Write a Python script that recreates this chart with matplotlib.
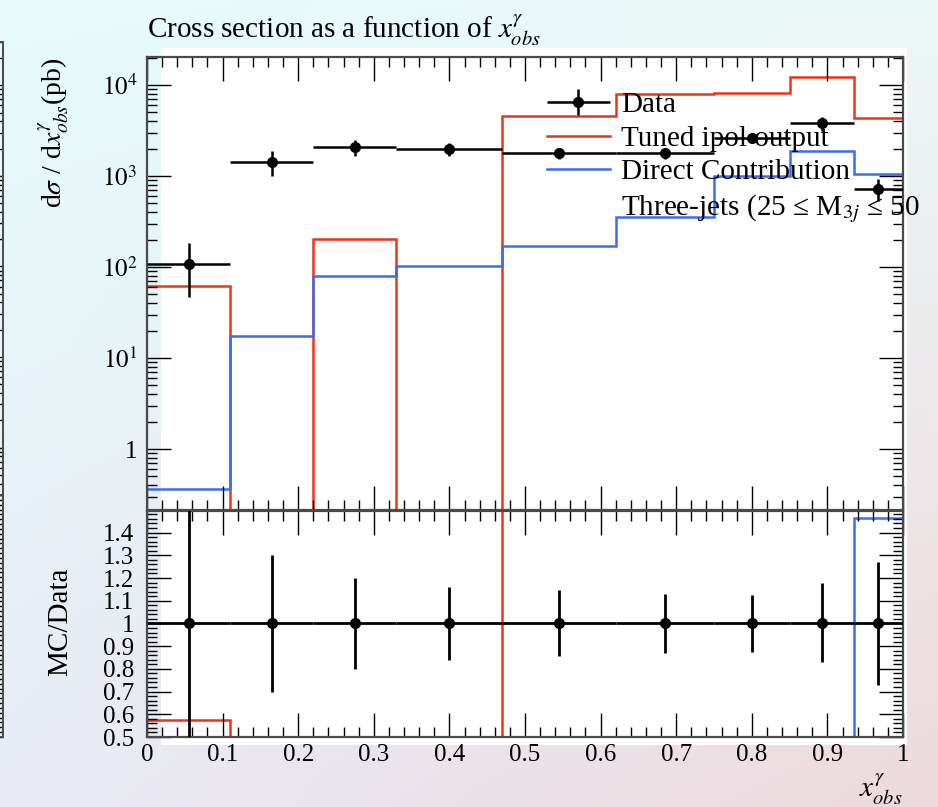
import numpy as np
import matplotlib
matplotlib.use("Agg")
import matplotlib.pyplot as plt
from matplotlib.ticker import MultipleLocator, FixedLocator, FuncFormatter, LogLocator, NullFormatter
from matplotlib.patches import Rectangle
from matplotlib.lines import Line2D
from matplotlib.legend_handler import HandlerErrorbar

plt.rcParams['font.family'] = ['Liberation Serif', 'DejaVu Serif']
plt.rcParams['mathtext.fontset'] = 'stix'

# ---------------- data ----------------
bin_edges = [0.0, 0.11, 0.22, 0.33, 0.47, 0.62, 0.75, 0.85, 0.935, 1.0]
data_values = [108, 1430, 2080, 1980, 1790, 1780, 2620, 3800, 725]
data_err_up = [76, 430, 420, 320, 260, 230, 330, 680, 195]
data_err_down = [61, 430, 420, 320, 260, 230, 330, 640, 195]
tuned_values = [62, 0, 203, 0, 4560, 7980, 8150, 12250, 4340]
direct_values = [0.36, 17.4, 79, 103, 170, 354, 1000, 1880, 1060]

legend_labels = ["Data", "Tuned ipol output", "Direct Contribution",
                 "Three-jets (25 \u2264 M$_{3j}$ \u2264 50"]
title_text = r"Cross section as a function of $x_{obs}^{\gamma}$"
ylabel_text = r"d$\sigma$ / d$x^{\gamma}_{obs}$(pb)"
ratio_label_text = "MC/Data"
xlabel_text = r"$x^{\gamma}_{obs}$"
x_ticks = [0, 0.1, 0.2, 0.3, 0.4, 0.5, 0.6, 0.7, 0.8, 0.9, 1.0]
x_tick_labels = ["0", "0.1", "0.2", "0.3", "0.4", "0.5", "0.6", "0.7", "0.8", "0.9", "1"]
ratio_ticks = [0.5, 0.6, 0.7, 0.8, 0.9, 1.0, 1.1, 1.2, 1.3, 1.4]
ratio_tick_labels = ["0.5", "0.6", "0.7", "0.8", "0.9", "1", "1.1", "1.2", "1.3", "1.4"]

RED = '#ee3418'
BLUE = '#3a6cf4'

# ---------------- figure ----------------
W, H = 938, 807
fig = plt.figure(figsize=(W / 100, H / 100), dpi=100)

def fx(px):
    return px / W

def fy(py):
    return 1 - py / H

# background gradient
bg = fig.add_axes([0, 0, 1, 1], zorder=-10)
ny, nx = 160, 200
yy, xx = np.mgrid[0:1:ny * 1j, 0:1:nx * 1j]
TL = np.array([230, 252, 251]) / 255
TR = np.array([236, 248, 248]) / 255
BL = np.array([233, 235, 246]) / 255
BR = np.array([238, 218, 221]) / 255
img = ((1 - xx)[..., None] * (1 - yy)[..., None] * TL + xx[..., None] * (1 - yy)[..., None] * TR
       + (1 - xx)[..., None] * yy[..., None] * BL + xx[..., None] * yy[..., None] * BR)
bg.imshow(img, extent=[0, 1, 0, 1], origin='upper', aspect='auto', interpolation='bilinear')
bg.add_patch(Rectangle((fx(161), fy(745)), (907 - 161) / W, (745 - 48) / H,
                       facecolor='white', edgecolor='none'))
bg.set_xlim(0, 1)
bg.set_ylim(0, 1)
bg.axis('off')

edges = np.array(bin_edges)
centers = 0.5 * (edges[:-1] + edges[1:])
halfw = 0.5 * (edges[1:] - edges[:-1])
data = np.array(data_values, float)
eu = np.array(data_err_up, float)
ed = np.array(data_err_down, float)
tuned = np.array(tuned_values, float)
direct = np.array(direct_values, float)

SPINE = '#4a4a4a'

def style_axes(ax):
    for s in ax.spines.values():
        s.set_color(SPINE)
        s.set_linewidth(1.6)
    ax.tick_params(which='both', direction='in', top=True, right=True, color='black', width=1.0)
    ax.tick_params(which='major', length=17)
    ax.tick_params(which='minor', length=7)

# ---------------- main panel ----------------
ax = fig.add_axes([fx(147), fy(510), (903 - 147) / W, (510 - 57) / H], facecolor='none')
ymin, ymax = 0.214, 20300
floor = ymin * 1e-3
ax.stairs(np.maximum(tuned, floor), edges, baseline=None, color=RED, lw=1.8)
ax.stairs(np.maximum(direct, floor), edges, baseline=None, color=BLUE, lw=1.8)
eb = ax.errorbar(centers, data, yerr=[ed, eu], xerr=halfw, fmt='o', color='black',
                 ms=7, elinewidth=1.8, capsize=0, zorder=5)
ax.set_xlim(0, 1)
ax.set_yscale('log')
ax.set_ylim(ymin, ymax)
ax.xaxis.set_major_locator(FixedLocator(x_ticks))
ax.xaxis.set_minor_locator(MultipleLocator(0.02))
ax.yaxis.set_major_locator(LogLocator(base=10, numticks=10))
ax.yaxis.set_minor_locator(LogLocator(base=10, subs=np.arange(2, 10), numticks=20))
ax.yaxis.set_minor_formatter(NullFormatter())

def logfmt(v, pos):
    e = int(round(np.log10(v)))
    if e == 0:
        return "1"
    return r"$10^{%d}$" % e

ax.yaxis.set_major_formatter(FuncFormatter(logfmt))
style_axes(ax)
ax.tick_params(axis='x', labelbottom=False)
ax.tick_params(axis='y', labelsize=18, pad=7)

# legend
h_red = Line2D([], [], color=RED, lw=1.8)
h_blue = Line2D([], [], color=BLUE, lw=1.8)
h_none = Line2D([], [], linestyle='none')
leg = fig.legend([eb, h_red, h_blue, h_none], legend_labels, loc='upper left',
                 bbox_to_anchor=(fx(547), fy(92)), frameon=False, fontsize=21,
                 handlelength=2.15, handletextpad=0.4, labelspacing=0.24,
                 borderpad=0, borderaxespad=0,
                 handler_map={type(eb): HandlerErrorbar(xerr_size=1.07, yerr_size=0.45)})
leg.set_zorder(20)

# ---------------- ratio panel ----------------
rx = fig.add_axes([fx(147), fy(737), (903 - 147) / W, (737 - 511) / H], facecolor='none')
r_tuned = tuned / data
r_direct = direct / data
rx.stairs(r_tuned, edges, baseline=None, color=RED, lw=1.8)
rx.stairs(r_direct, edges, baseline=None, color=BLUE, lw=1.8)
rx.errorbar(centers, data / data, yerr=[ed / data, eu / data], xerr=halfw, fmt='o',
            color='black', ms=7, elinewidth=2.0, capsize=0, zorder=5)
rx.set_xlim(0, 1)
rx.set_ylim(0.5, 1.495)
rx.set_xticks(x_ticks, x_tick_labels)
rx.xaxis.set_minor_locator(MultipleLocator(0.02))
rx.set_yticks(ratio_ticks, ratio_tick_labels)
rx.yaxis.set_minor_locator(MultipleLocator(0.02))
style_axes(rx)
rx.tick_params(axis='x', labelsize=18, pad=5)
rx.tick_params(axis='y', labelsize=18, pad=9)

# ---------------- labels ----------------
fig.text(fx(147), fy(38), title_text, fontsize=21, ha='left', va='baseline')
fig.text(fx(54), fy(57), ylabel_text, fontsize=20, rotation=90, ha='center', va='top')
fig.text(fx(60), fy(622), ratio_label_text, fontsize=21, rotation=90, ha='center', va='center')
fig.text(fx(903), fy(797), xlabel_text, fontsize=21, ha='right', va='baseline')

# ---------------- neighbouring plot fragment (left edge) ----------------
nb = fig.add_axes([-0.3, fy(495), 0.3 + fx(3), (495 - 42) / H], facecolor='none')
nb.set_yscale('log')
nb.set_ylim(0.3, 3e4)
nb.set_xlim(0, 1)
for s in nb.spines.values():
    s.set_color(SPINE)
    s.set_linewidth(1.4)
nb.tick_params(which='both', direction='in', left=False, right=True, bottom=False, top=False,
               labelleft=False, labelbottom=False, length=6, width=1)
nb2 = fig.add_axes([-0.3, fy(737), 0.3 + fx(3), (737 - 495) / H], facecolor='none')
nb2.set_ylim(0.5, 1.5)
nb2.set_xlim(0, 1)
nb2.yaxis.set_major_locator(MultipleLocator(0.1))
nb2.yaxis.set_minor_locator(MultipleLocator(0.02))
for s in nb2.spines.values():
    s.set_color(SPINE)
    s.set_linewidth(1.4)
nb2.tick_params(which='both', direction='in', left=False, right=True, bottom=False, top=False,
                labelleft=False, labelbottom=False, length=6, width=1)

fig.savefig('out.png', dpi=100)
